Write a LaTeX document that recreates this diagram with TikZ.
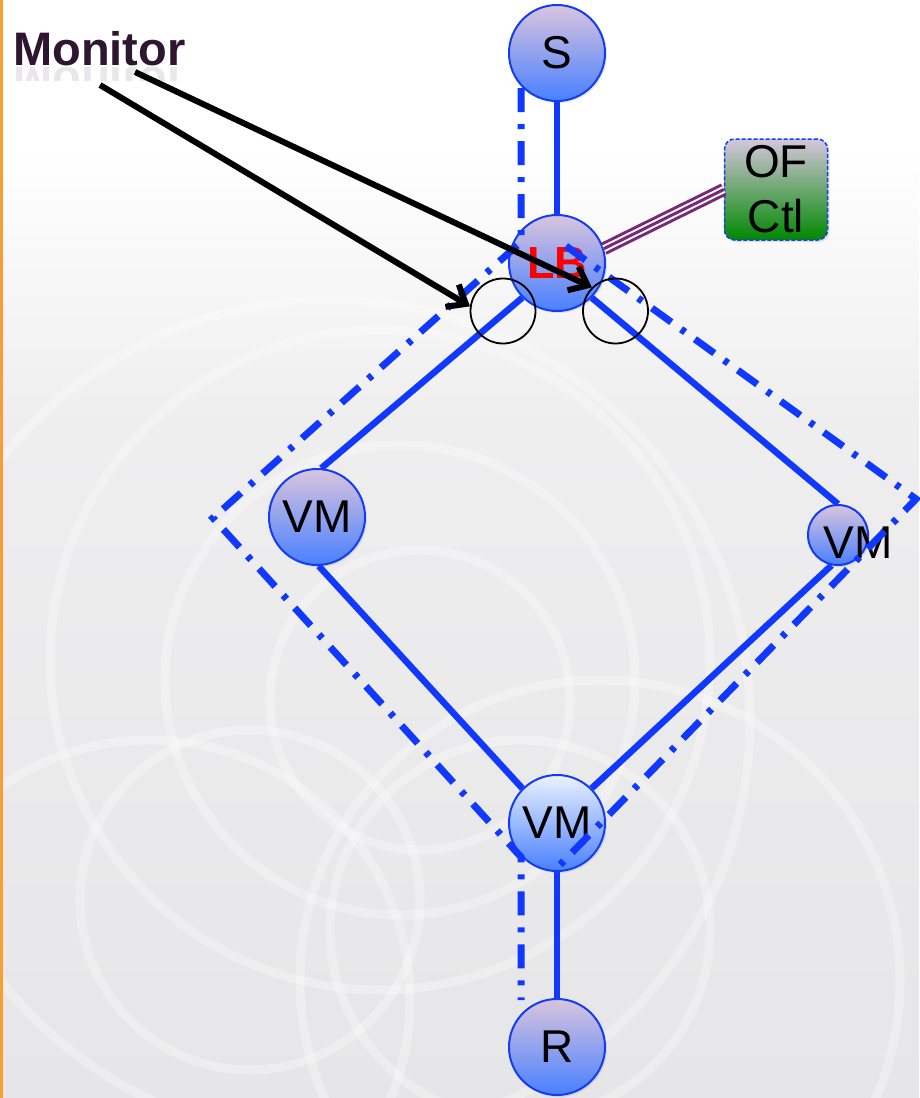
\documentclass[tikz,border=0pt]{standalone}
\usepackage{fontspec}
\setmainfont{Liberation Sans}
\usetikzlibrary{arrows.meta,shadows}

\definecolor{linkblue}{RGB}{16,56,255}
\definecolor{nodeedge}{RGB}{20,60,240}
\definecolor{nodetop}{RGB}{218,196,222}
\definecolor{nodebottom}{RGB}{72,128,255}
\definecolor{paletop}{RGB}{236,242,255}
\definecolor{monpurple}{RGB}{46,22,48}
\definecolor{ctlpurple}{RGB}{120,40,120}
\definecolor{boxtop}{RGB}{214,198,222}
\definecolor{boxbottom}{RGB}{0,136,0}
\definecolor{bgmid}{RGB}{238,238,239}
\definecolor{bglow}{RGB}{230,230,232}
\definecolor{sideorange}{RGB}{247,160,48}

\begin{document}
\begin{tikzpicture}[x=1pt,y=-1pt,
  netnode/.style={circle, draw=nodeedge, line width=2pt, inner sep=0pt,
    minimum size=96pt, top color=nodetop, bottom color=nodebottom,
    font=\fontsize{46}{50}\selectfont,
    drop shadow={opacity=0.18, shadow xshift=2pt, shadow yshift=-2pt}},
  link/.style={draw=linkblue, line width=6.5pt},
  hilite/.style={draw=linkblue, line width=7pt, line join=miter,
    dash pattern=on 24pt off 12pt on 5pt off 12pt},
  probe/.style={circle, draw=black, line width=1.8pt, minimum size=65pt, inner sep=0pt},
  monarrow/.style={draw=black, line width=6pt,
    -{Straight Barb[length=16pt,width=26pt]}},
  swirl/.style={draw=white, line width=9pt, opacity=0.3}]

\useasboundingbox (0,0) rectangle (919,1098);

% backdrop: white top fading into light grey with soft white rings
\fill[white] (0,0) rectangle (919,1098);
\shade[top color=white, bottom color=bgmid] (0,150) rectangle (919,421);
\shade[top color=bgmid, bottom color=bglow] (0,420) rectangle (919,1098);
\begin{scope}
  \clip (0,0) rectangle (919,1098);
  \draw[swirl] (420,700) circle (150);
  \draw[swirl] (400,680) circle (235);
  \draw[swirl] (380,660) circle (330);
  \draw[swirl] (330,720) circle (420);
  \draw[swirl] (520,930) circle (190);
  \draw[swirl] (600,980) circle (300);
  \draw[swirl] (250,900) circle (170);
  \draw[swirl] (150,1000) circle (260);
\end{scope}
\fill[sideorange] (0,0) rectangle (3,1098);

% network nodes
\node[netnode] (s) at (557,53) {S};
\node[netnode, font=\fontsize{45}{50}\selectfont\bfseries, text=red] (lb) at (557,263) {LB};
\node[netnode, minimum size=60pt] (vmr) at (838,535) {};
\node[font=\fontsize{46}{50}\selectfont, inner sep=0pt] (vmrt) at (858,543) {VM};
\node[netnode] (vml) at (317,517) {VM};
\node[netnode, top color=paletop] (vmb) at (557,823) {VM};
\node[netnode] (r) at (557,1047) {R};

% controller box
\node[draw=nodeedge, line width=1.5pt, dash pattern=on 4pt off 2pt,
  rounded corners=10pt, minimum width=103pt, minimum height=101pt,
  inner sep=0pt, align=center, top color=boxtop, bottom color=boxbottom,
  font=\fontsize{46}{55}\selectfont,
  drop shadow={opacity=0.2, shadow xshift=2pt, shadow yshift=-2pt}]
  (ofc) at (776,189.5) {OF\\Ctl};

% links
\draw[link] (s.south) -- (lb.north);
\draw[link] (lb.225) -- (vml.85);
\draw[link] (lb.315) -- (vmr.north);
\draw[link] (vml.272) -- (vmb.135);
\draw[link] (vmr.258) -- (vmb.45);
\draw[link] (vmb.south) -- (r.north);

% control channel (triple line)
\draw[ctlpurple, line width=13pt] (lb.17) -- (ofc.west);
\draw[white, line width=7pt] (lb.17) -- (ofc.west);
\draw[ctlpurple, line width=3pt] (lb.17) -- (ofc.west);

% highlighted paths
\coordinate (pa) at (521,88);
\coordinate (pb) at (521,242);
\coordinate (pc) at (213,518);
\coordinate (pd) at (521,857);
\coordinate (pe) at (521,1000);
\draw[hilite] (pa) -- (pb) -- (pc) -- (pd) -- (pe);
\coordinate (qa) at (566,246);
\coordinate (qb) at (916,499);
\coordinate (qc) at (558,867);
\draw[hilite] (qa) -- (qb) -- (qc);

% monitoring points
\node[probe] (c1) at (503,311) {};
\node[probe] (c2) at (615.5,311) {};

% label with its faint reflection
\node[font=\fontsize{47}{50}\selectfont\bfseries, text=monpurple,
  anchor=base west, inner sep=0pt] (mon) at (13,65) {Monitor};
\begin{scope}
  \clip (0,67) rectangle (200,80);
  \node[font=\fontsize{47}{50}\selectfont\bfseries, text=monpurple,
    anchor=base west, inner sep=0pt, opacity=0.1] (monrefl) at (13,67)
    {\scalebox{1}[-1]{Monitor}};
\end{scope}

\coordinate (m1) at (100,85);
\coordinate (m2) at (135,72);
\draw[monarrow] (m1) -- (c1.172);
\draw[monarrow] (m2) -- (c2.135);

\end{tikzpicture}
\end{document}
